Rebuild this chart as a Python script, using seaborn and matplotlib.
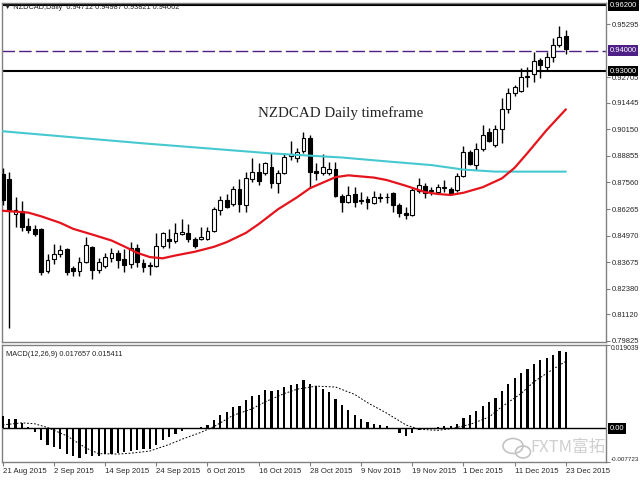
import matplotlib
matplotlib.use("Agg")
import matplotlib.pyplot as plt
import matplotlib.transforms as mtransforms
from matplotlib.patches import Ellipse
import seaborn as sns

sns.set_theme(style="white")
plt.rcParams["font.family"] = ["Liberation Sans", "DejaVu Sans"]

# ========== 数据 (NZDCAD 日线, 21 Aug 2015 - 23 Dec 2015) ==========
opens = [
    0.87975, 0.87731, 0.86023, 0.86169, 0.85437, 0.85291, 0.85291, 0.83241, 0.83827, 0.84071,
    0.84315, 0.83388, 0.83241, 0.83680, 0.84412, 0.83290, 0.83485, 0.83876, 0.84120, 0.83827,
    0.83583, 0.84364, 0.83632, 0.83485, 0.83485, 0.84461, 0.84803, 0.84705, 0.85047, 0.85096,
    0.84803, 0.84803, 0.84803, 0.85193, 0.86218, 0.86706, 0.86511, 0.87243, 0.86462, 0.87731,
    0.88072, 0.88024, 0.88316, 0.87536, 0.88024, 0.88853, 0.88756, 0.89097, 0.89732, 0.88121,
    0.88024, 0.88024, 0.88219, 0.86901, 0.86608, 0.86999, 0.86657, 0.86755, 0.86560, 0.86804,
    0.86852, 0.87048, 0.86462, 0.86072, 0.85974, 0.87145, 0.87389, 0.87145, 0.87120, 0.87292,
    0.87243, 0.87194, 0.87877, 0.89048, 0.88414, 0.89195, 0.90024, 0.89390, 0.90171, 0.91147,
    0.91928, 0.92025, 0.92708, 0.92855, 0.93538, 0.93196, 0.93684, 0.94270, 0.94712,
]
highs = [
    0.88268, 0.88072, 0.86852, 0.86657, 0.85828, 0.85486, 0.85340, 0.84071, 0.84559, 0.84510,
    0.84364, 0.83485, 0.83924, 0.84900, 0.84461, 0.83876, 0.84120, 0.84364, 0.84266, 0.84315,
    0.84656, 0.84559, 0.83827, 0.83680, 0.85096, 0.85144, 0.85291, 0.85584, 0.85779, 0.85535,
    0.84900, 0.85388, 0.85388, 0.86364, 0.86901, 0.86999, 0.87389, 0.87731, 0.88072, 0.88756,
    0.88512, 0.88560, 0.89000, 0.88170, 0.89000, 0.89585, 0.89244, 0.90024, 0.89878, 0.88512,
    0.88951, 0.88560, 0.88560, 0.86999, 0.87389, 0.87340, 0.87096, 0.86901, 0.87145, 0.87048,
    0.87048, 0.87096, 0.86560, 0.86364, 0.87292, 0.87780, 0.87536, 0.87340, 0.87487, 0.87682,
    0.87340, 0.88024, 0.89341, 0.89146, 0.89488, 0.90366, 0.90220, 0.90366, 0.91684, 0.92172,
    0.92318, 0.93148, 0.93196, 0.93928, 0.93636, 0.93928, 0.94612, 0.95197, 0.94987,
]
lows = [
    0.86462, 0.80460, 0.85388, 0.85193, 0.85096, 0.84949, 0.83046, 0.83144, 0.83583, 0.83924,
    0.83046, 0.82997, 0.82997, 0.83632, 0.82851, 0.83144, 0.83388, 0.83680, 0.83388, 0.83192,
    0.83388, 0.83436, 0.83192, 0.83046, 0.83436, 0.84364, 0.84364, 0.84608, 0.84998, 0.84656,
    0.84364, 0.84754, 0.84754, 0.85144, 0.85974, 0.86316, 0.86413, 0.86120, 0.86120, 0.87584,
    0.87438, 0.87926, 0.87292, 0.87048, 0.87975, 0.88658, 0.88560, 0.89000, 0.87292, 0.87682,
    0.87926, 0.87926, 0.86852, 0.86120, 0.86560, 0.86364, 0.86511, 0.86267, 0.86511, 0.86608,
    0.86560, 0.86120, 0.85876, 0.85779, 0.85925, 0.87048, 0.86804, 0.86950, 0.87048, 0.87096,
    0.86950, 0.87096, 0.87828, 0.88414, 0.88170, 0.89097, 0.89536, 0.89292, 0.89488, 0.90952,
    0.91781, 0.91976, 0.92220, 0.92464, 0.92660, 0.93001, 0.93440, 0.94172, 0.93821,
]
closes = [
    0.86706, 0.86218, 0.86218, 0.85388, 0.85242, 0.85047, 0.83192, 0.83778, 0.84071, 0.84266,
    0.83192, 0.83241, 0.83680, 0.84510, 0.83290, 0.83680, 0.83924, 0.84120, 0.83778, 0.83534,
    0.84364, 0.83680, 0.83436, 0.83534, 0.84461, 0.85096, 0.84705, 0.85096, 0.85144, 0.84803,
    0.84461, 0.84900, 0.85193, 0.86267, 0.86706, 0.86364, 0.87243, 0.86511, 0.87780, 0.88072,
    0.87633, 0.88512, 0.87536, 0.88024, 0.88804, 0.88951, 0.89048, 0.89732, 0.88072, 0.88024,
    0.88316, 0.88219, 0.86901, 0.86608, 0.86950, 0.86608, 0.86706, 0.86608, 0.86852, 0.86852,
    0.86828, 0.86462, 0.86072, 0.85974, 0.87194, 0.87438, 0.87048, 0.87194, 0.87340, 0.87340,
    0.87048, 0.87877, 0.89048, 0.88463, 0.89195, 0.89878, 0.89585, 0.90171, 0.91147, 0.91928,
    0.92220, 0.92708, 0.92757, 0.93489, 0.93294, 0.93684, 0.94270, 0.94660, 0.94062,
]

# 均线 (读图取点: 柱序号, 价格)
ma_fast_bar = [0, 4, 6, 9, 11, 14, 17, 19, 21, 23, 25, 27, 30, 33, 35, 38, 40, 43, 46, 48,
               52, 54, 58, 60, 63, 66, 68, 70, 72, 75, 78, 80, 82, 85, 88]
ma_fast = [0.8618, 0.8609, 0.8591, 0.8559, 0.8530, 0.8502, 0.8473, 0.8444, 0.8413, 0.8392,
           0.8386, 0.8400, 0.8418, 0.8442, 0.8465, 0.8510, 0.8553, 0.8625, 0.8684, 0.8728,
           0.8782, 0.8791, 0.8780, 0.8768, 0.8740, 0.8709, 0.8700, 0.8695, 0.8706, 0.8733,
           0.8776, 0.8828, 0.8900, 0.9012, 0.9113]
ma_slow_bar = [0, 22, 42, 53, 60, 67, 72, 77, 88]
ma_slow = [0.9006, 0.8947, 0.8898, 0.8878, 0.8859, 0.8841, 0.8819, 0.8809, 0.8809]

# MACD 柱 (每根K线一个值)
macd = [
    0.00277, 0.00223, 0.00210, 0.00127, 0.00032, -0.00074, -0.00268, -0.00371, -0.00431, -0.00469,
    -0.00581, -0.00639, -0.00670, -0.00594, -0.00626, -0.00626, -0.00594, -0.00581, -0.00565, -0.00543,
    -0.00521, -0.00491, -0.00476, -0.00469, -0.00393, -0.00268, -0.00192, -0.00119, -0.00058, -0.00020,
    0.00010, 0.00032, 0.00076, 0.00187, 0.00299, 0.00373, 0.00501, 0.00523, 0.00641, 0.00746,
    0.00775, 0.00871, 0.00857, 0.00887, 0.00947, 0.01006, 0.01021, 0.01117, 0.01028, 0.00983,
    0.00909, 0.00835, 0.00670, 0.00536, 0.00425, 0.00312, 0.00223, 0.00149, 0.00105, 0.00067,
    0.00044, 0.00010, -0.00096, -0.00170, -0.00103, -0.00029, -0.00010, 0.00005, 0.00032, 0.00044,
    0.00044, 0.00105, 0.00239, 0.00299, 0.00402, 0.00523, 0.00596, 0.00702, 0.00849, 0.01021,
    0.01149, 0.01282, 0.01372, 0.01490, 0.01564, 0.01618, 0.01691, 0.01788, 0.017657,
]
signal_bar = [0, 3, 5, 7, 10, 13, 15, 18, 20, 23, 26, 28, 31, 33, 36, 39, 41, 44, 46, 49,
              52, 55, 57, 60, 63, 65, 68, 70, 73, 76, 78, 81, 83, 86, 88]
signal = [0.0008, 0.00127, 0.00105, 0.0002, -0.0017, -0.0045, -0.0058, -0.0059, -0.0057, -0.0052,
          -0.0037, -0.0025, -0.0009, 0.0004, 0.0030, 0.0045, 0.0061, 0.0080, 0.0090, 0.0097,
          0.0095, 0.0078, 0.0059, 0.0035, 0.0008, -0.0002, -0.00045, -0.0001, 0.0009, 0.0026,
          0.0050, 0.0080, 0.0107, 0.0136, 0.015411]

price_ticks = [0.95295, 0.92705, 0.91445, 0.90150, 0.88855, 0.87560, 0.86265,
               0.84970, 0.83675, 0.82380, 0.81120, 0.79825]
levels = [(0.962, "0.96200", "black"), (0.94, "0.94000", "#4e1f86"), (0.93, "0.93000", "black")]
date_bars = [0, 8, 16, 24, 32, 40, 48, 56, 64, 72, 80, 88]
date_labels = ["21 Aug 2015", "2 Sep 2015", "14 Sep 2015", "24 Sep 2015", "6 Oct 2015",
               "16 Oct 2015", "28 Oct 2015", "9 Nov 2015", "19 Nov 2015", "1 Dec 2015",
               "11 Dec 2015", "23 Dec 2015"]

GRAY = "#808080"
FS = 5.5
XLIM = (-0.11, 94.27)

fig = plt.figure(figsize=(6.4, 4.8), dpi=100)
ax = fig.add_axes([2 / 640, 1 - 342 / 480, 604 / 640, 339 / 480])
ax2 = fig.add_axes([2 / 640, 1 - 462 / 480, 604 / 640, 117 / 480])

# ========== 主图: K线 ==========
for i, (o, h, l, c) in enumerate(zip(opens, highs, lows, closes)):
    ax.vlines(i, l, h, color="black", lw=1, zorder=3)
    bull = c >= o
    ax.bar(i, max(abs(c - o), 1e-5), bottom=min(o, c), width=0.62,
           facecolor="white" if bull else "black", edgecolor="black",
           linewidth=0.8, zorder=4)

for val, txt, col in levels:
    if col == "black":
        ax.axhline(val, color=col, lw=1.5, zorder=2)
    else:
        ax.axhline(val, color=col, lw=1, dashes=(9, 3), zorder=2)

sns.lineplot(x=ma_slow_bar, y=ma_slow, ax=ax, color="#45c8cf", linewidth=1.5, zorder=5)
sns.lineplot(x=ma_fast_bar, y=ma_fast, ax=ax, color="#e5141c", linewidth=1.6, zorder=5)

ax.set_xlim(*XLIM)
ax.set_ylim(0.79776, 0.9632)
ax.set_xticks([])
ax.set_xlabel("")
ax.set_ylabel("")
ax.yaxis.tick_right()
ax.set_yticks(price_ticks)
ax.set_yticklabels([f"{v:.5f}" for v in price_ticks], fontsize=FS)
ax.tick_params(axis="y", direction="out", length=3, width=0.8, color=GRAY, pad=1.2, right=True)
for s in ax.spines.values():
    s.set_color(GRAY)
    s.set_linewidth(1)

trans = mtransforms.blended_transform_factory(ax.transAxes, ax.transData)
for val, txt, col in levels:
    ax.text(1.006, val, txt, transform=trans, ha="left", va="center", fontsize=FS,
            color="white", zorder=10, clip_on=False,
            bbox=dict(facecolor=col, edgecolor="none", pad=1.2))

ax.text(0.004, 0.988, "\u25bc NZDCAD,Daily  0.94712 0.94987 0.93821 0.94062",
        transform=ax.transAxes, ha="left", va="center", fontsize=5.3, color="#222222",
        family=["Liberation Sans", "DejaVu Sans"])
ax.text(0.424, 0.675, "NZDCAD Daily timeframe", transform=ax.transAxes, ha="left",
        va="center", fontsize=10.8, color="#222222", family="Liberation Serif")

# ========== 副图: MACD ==========
ax2.bar(list(range(len(macd))), macd, width=0.36, color="black", linewidth=0,
        antialiased=False, zorder=3)
ax2.axhline(0, color="black", lw=1, zorder=2)
sns.lineplot(x=signal_bar, y=signal, ax=ax2, color="black", linewidth=0.7, zorder=4)
ax2.lines[-1].set_dashes([1.8, 1.8])

ax2.set_xlim(*XLIM)
ax2.set_ylim(-0.0070, 0.01915)
ax2.set_xlabel("")
ax2.set_ylabel("")
ax2.yaxis.tick_right()
ax2.set_yticks([0.019039, -0.007723])
ax2.set_yticklabels(["0.019039", "-0.007723"])
ylabels = ax2.get_yticklabels()
ylabels[0].set_va("top")
ylabels[0].set_fontsize(4.9)
ylabels[1].set_va("bottom")
ylabels[1].set_fontsize(4.5)
ax2.tick_params(axis="y", direction="out", length=3, width=0.8, color=GRAY, pad=0.6, right=True)
ax2.set_xticks(date_bars)
ax2.set_xticklabels(date_labels, fontsize=5.6, ha="left")
ax2.tick_params(axis="x", direction="out", length=3, width=0.8, color=GRAY, pad=1, bottom=True)
for s in ax2.spines.values():
    s.set_color(GRAY)
    s.set_linewidth(1)

trans2 = mtransforms.blended_transform_factory(ax2.transAxes, ax2.transData)
ax2.text(1.006, 0.0, "0.00", transform=trans2, ha="left", va="center", fontsize=FS,
         color="white", zorder=10, clip_on=False,
         bbox=dict(facecolor="black", edgecolor="none", pad=1.2))
ax2.text(0.006, 0.915, "MACD(12,26,9) 0.017657 0.015411", transform=ax2.transAxes,
         ha="left", va="center", fontsize=5.3, color="#222222")

# 水印
fig.text(530 / 640, 1 - 447 / 480, "FXTM富拓", ha="left", va="center", fontsize=12,
         color="#c4c4c4", alpha=0.8, family=["Noto Sans CJK SC", "DejaVu Sans"])
fig.patches.append(Ellipse((513 / 640, 1 - 446 / 480), 20 / 640, 15 / 480,
                           transform=fig.transFigure, fill=False, edgecolor="#c4c4c4", lw=1.2))
fig.patches.append(Ellipse((523 / 640, 1 - 452 / 480), 15 / 640, 12 / 480,
                           transform=fig.transFigure, fill=False, edgecolor="#c4c4c4", lw=1.2))

fig.savefig("out.png", dpi=100)
